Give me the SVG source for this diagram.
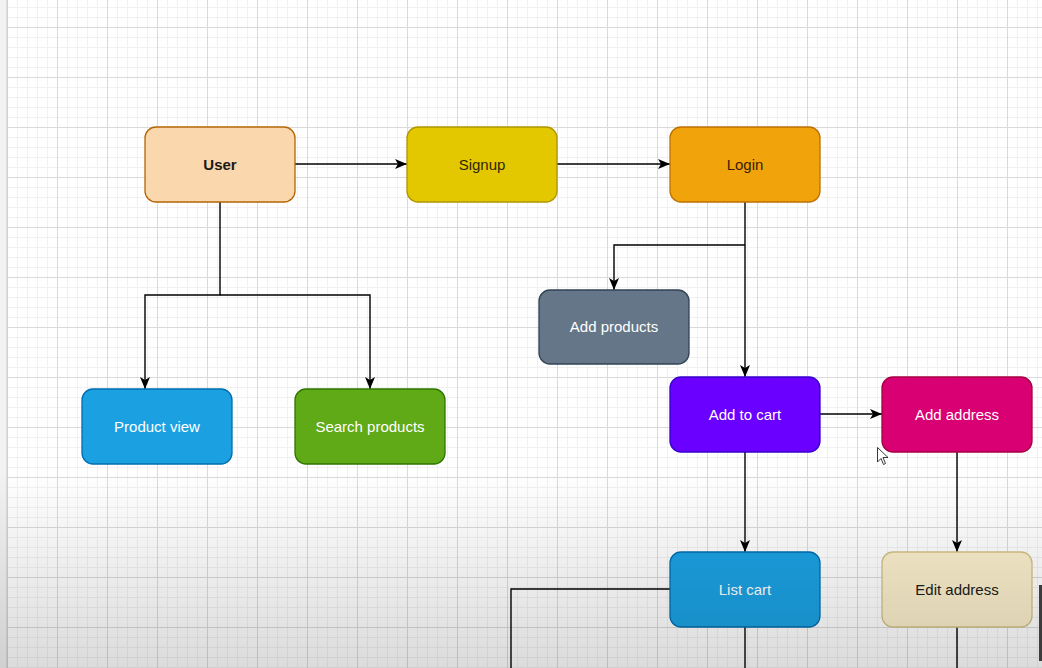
<svg xmlns="http://www.w3.org/2000/svg" width="1042" height="668" viewBox="0 0 1042 668">
  <defs>
    <pattern id="minor" x="7" y="7" width="10" height="10" patternUnits="userSpaceOnUse">
      <path d="M0 0.5 H10 M0.5 0 V10" fill="none" stroke="#f1f1f1" stroke-width="1"/>
    </pattern>
    <pattern id="major" x="7" y="27" width="50" height="50" patternUnits="userSpaceOnUse">
      <path d="M0 0.5 H50 M0.5 0 V50" fill="none" stroke="#dadada" stroke-width="1"/>
    </pattern>
    <linearGradient id="shade" x1="0" y1="0" x2="0" y2="1">
      <stop offset="0" stop-color="#000" stop-opacity="0"/>
      <stop offset="1" stop-color="#000" stop-opacity="0.14"/>
    </linearGradient>
    <marker id="arrow" viewBox="0 0 12 10" refX="12" refY="5" markerWidth="12" markerHeight="10" markerUnits="userSpaceOnUse" orient="auto">
      <path d="M0 0 L12 5 L0 10 L3 5 Z" fill="#000"/>
    </marker>
    <style>
      .node rect { stroke-width: 1.3; }
      .node text { font-family: "Liberation Sans", Arial, sans-serif; font-size: 15px; text-anchor: middle; }
      .edges path { fill: none; stroke: #000; stroke-width: 1.4; }
      .light { fill: #ffffff; }
      .dark { fill: #1a1a1a; }
    </style>
  </defs>

  <!-- canvas with grid -->
  <rect width="1042" height="668" fill="#ffffff"/>
  <rect width="1042" height="668" fill="url(#minor)"/>
  <rect width="1042" height="668" fill="url(#major)"/>
  <rect x="0" y="0" width="7" height="668" fill="#f2f2f2"/>
  <line x1="7" y1="0" x2="7" y2="668" stroke="#c9c9c9" stroke-width="1"/>

  <!-- connectors -->
  <g class="edges">
    <path d="M295 164 H407" marker-end="url(#arrow)"/>
    <path d="M557 164 H670" marker-end="url(#arrow)"/>
    <path d="M220 202 V295 H145 V389" marker-end="url(#arrow)"/>
    <path d="M220 295 H370 V389" marker-end="url(#arrow)"/>
    <path d="M745 202 V377" marker-end="url(#arrow)"/>
    <path d="M745 245 H614 V290" marker-end="url(#arrow)"/>
    <path d="M820 414 H882" marker-end="url(#arrow)"/>
    <path d="M745 452 V552" marker-end="url(#arrow)"/>
    <path d="M957 452 V552" marker-end="url(#arrow)"/>
    <path d="M670 589 H511 V668"/>
    <path d="M745 627 V668"/>
    <path d="M957 627 V668"/>
  </g>

  <!-- nodes -->
  <g id="user" class="node">
    <rect x="145" y="127" width="150" height="75" rx="11" fill="#fad7ac" stroke="#b46504"/>
    <text x="220" y="170" class="dark" font-weight="bold">User</text>
  </g>
  <g id="signup" class="node">
    <rect x="407" y="127" width="150" height="75" rx="11" fill="#e3c800" stroke="#b09500"/>
    <text x="482" y="170" fill="#2e2600">Signup</text>
  </g>
  <g id="login" class="node">
    <rect x="670" y="127" width="150" height="75" rx="11" fill="#f0a30a" stroke="#bd7000"/>
    <text x="745" y="170" fill="#3a1e00">Login</text>
  </g>
  <g id="add-products" class="node">
    <rect x="539" y="290" width="150" height="74" rx="11" fill="#647687" stroke="#314354"/>
    <text x="614" y="332" class="light">Add products</text>
  </g>
  <g id="product-view" class="node">
    <rect x="82" y="389" width="150" height="75" rx="11" fill="#1ba1e2" stroke="#006eaf"/>
    <text x="157" y="432" class="light">Product view</text>
  </g>
  <g id="search-products" class="node">
    <rect x="295" y="389" width="150" height="75" rx="11" fill="#60a917" stroke="#2d7600"/>
    <text x="370" y="432" class="light">Search products</text>
  </g>
  <g id="add-to-cart" class="node">
    <rect x="670" y="377" width="150" height="75" rx="11" fill="#6a00ff" stroke="#3700cc"/>
    <text x="745" y="420" class="light">Add to cart</text>
  </g>
  <g id="add-address" class="node">
    <rect x="882" y="377" width="150" height="75" rx="11" fill="#d80073" stroke="#a50040"/>
    <text x="957" y="420" class="light">Add address</text>
  </g>
  <g id="list-cart" class="node">
    <rect x="670" y="552" width="150" height="75" rx="11" fill="#1ba1e2" stroke="#006eaf"/>
    <text x="745" y="595" class="light">List cart</text>
  </g>
  <g id="edit-address" class="node">
    <rect x="882" y="552" width="150" height="75" rx="11" fill="#f9eecb" stroke="#d2c184"/>
    <text x="957" y="595" class="dark">Edit address</text>
  </g>

  <!-- lower shading of the canvas -->
  <rect x="0" y="470" width="1042" height="198" fill="url(#shade)"/>

  <!-- side panel edge -->
  <rect x="1039" y="585" width="3" height="76" fill="#3c3c3c"/>

  <!-- mouse pointer -->
  <path d="M877.5 447.5 V462 L881 458.5 L883.5 464.5 L885.5 463.5 L883 457.5 L888 457.5 Z" fill="#ffffff" stroke="#222" stroke-width="0.9" stroke-linejoin="round"/>
</svg>
